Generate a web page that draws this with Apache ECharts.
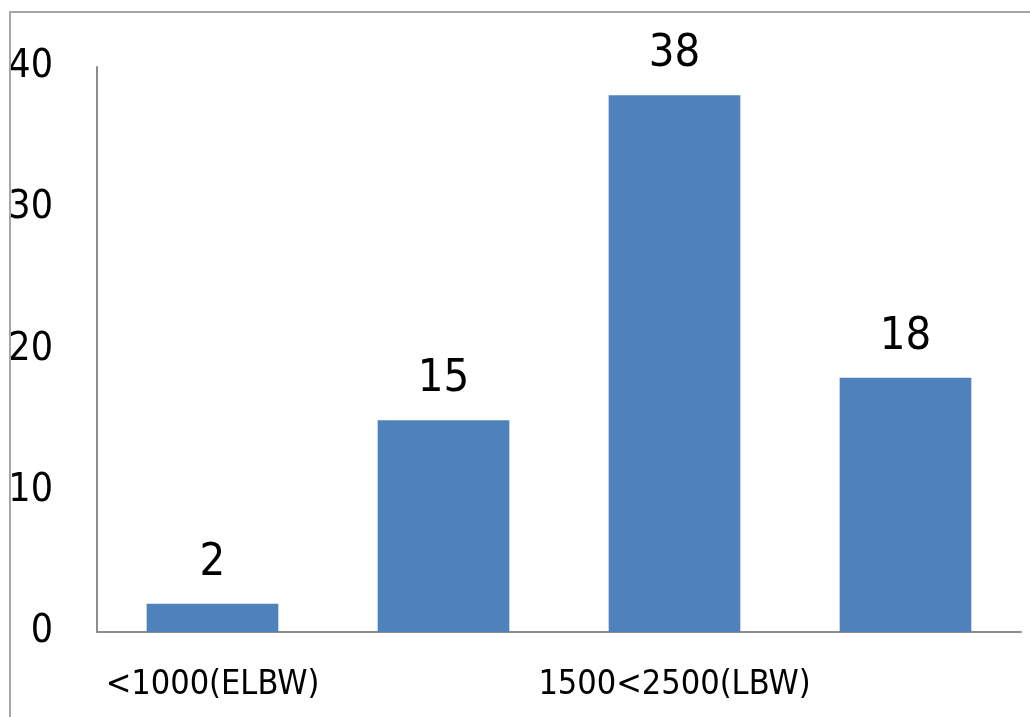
<!DOCTYPE html>
<html><head><meta charset="utf-8">
<script src="https://cdn.jsdelivr.net/npm/echarts@6/dist/echarts.min.js"></script>
<style>html,body{margin:0;padding:0;background:#fff}#c{width:1030px;height:717px}</style>
</head><body><div id="c"></div>
<script>
var categories = ['<1000(ELBW)', '1000<1500(VLBW)', '1500<2500(LBW)', '>2500(NBW)'];
var values = [2, 15, 38, 18];
var yTicks = [0, 10, 20, 30, 40];

var FONT = '"DejaVu Sans Condensed","Liberation Sans",sans-serif';
var chart = echarts.init(document.getElementById('c'));
chart.setOption({
  animation: false,
  backgroundColor: '#fff',
  graphic: [{
    type: 'rect', z: 100, silent: true,
    shape: {x: 10, y: 12, width: 1100, height: 800},
    style: {fill: 'none', stroke: '#a6a6a6', lineWidth: 2}
  }],
  grid: {left: 97, right: 9, top: 67, bottom: 85},
  xAxis: {
    type: 'category', data: categories,
    axisLine: {lineStyle: {color: '#8c8c8c', width: 2}},
    axisTick: {show: false},
    axisLabel: {interval: 1, color: '#000', fontFamily: FONT, fontSize: 34, margin: 36}
  },
  yAxis: {
    type: 'value', min: yTicks[0], max: yTicks[yTicks.length - 1], interval: 10,
    axisLine: {show: true, lineStyle: {color: '#8c8c8c', width: 2}},
    axisTick: {show: false},
    splitLine: {show: false},
    axisLabel: {color: '#000', fontFamily: FONT, fontSize: 39, margin: 44}
  },
  series: [{
    type: 'bar', data: values, barWidth: '57%',
    itemStyle: {color: '#4F81BD'},
    label: {show: true, position: 'top', distance: 18, color: '#000', fontFamily: FONT, fontSize: 45}
  }]
});
</script></body></html>
